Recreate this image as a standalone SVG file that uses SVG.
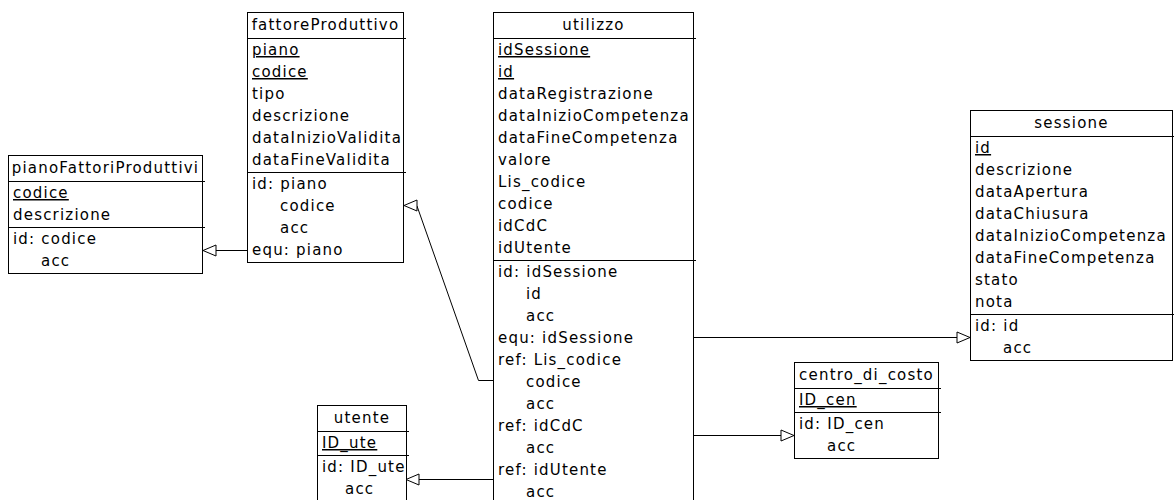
<svg xmlns="http://www.w3.org/2000/svg" width="1174" height="500" viewBox="0 0 1174 500">
  <style>
    .box { fill: #ffffff; stroke: #000000; stroke-width: 1; }
    .sep { stroke: #000000; stroke-width: 1; fill: none; }
    .t { font-family: "DejaVu Sans", "Noto Sans", sans-serif; font-size: 15px; letter-spacing: 1.2px; fill: #000000; }
    .h { text-anchor: middle; }
    .pk { text-decoration: underline; }
    .link { stroke: #000000; stroke-width: 1; fill: none; }
    .head { fill: #ffffff; stroke: #000000; stroke-width: 1; }
  </style>
  <rect width="1174" height="500" fill="#ffffff"/>

  <!-- connectors: foreign keys / equality constraints -->
  <g id="connectors">
    <!-- fattoreProduttivo.equ piano -> pianoFattoriProduttivi -->
    <line class="link" x1="247" y1="250.5" x2="216" y2="250.5"/>
    <polygon class="head" points="203,250.5 216,245 216,256"/>
    <!-- utilizzo.ref Lis_codice,codice -> fattoreProduttivo -->
    <polyline class="link" points="493,380.5 478.5,380.5 417,206"/>
    <polygon class="head" points="404,205.5 417,200 417,211"/>
    <!-- utilizzo.equ idSessione -> sessione -->
    <line class="link" x1="693" y1="337.5" x2="957" y2="337.5"/>
    <polygon class="head" points="970,337.5 957,332 957,343"/>
    <!-- utilizzo.ref idCdC -> centro_di_costo -->
    <line class="link" x1="693" y1="435.5" x2="781" y2="435.5"/>
    <polygon class="head" points="794,435.5 781,430 781,441"/>
    <!-- utilizzo.ref idUtente -> utente -->
    <line class="link" x1="493" y1="479.5" x2="419" y2="479.5"/>
    <polygon class="head" points="406,479.5 419,474 419,485"/>
  </g>

  <!-- pianoFattoriProduttivi -->
  <g id="pianoFattoriProduttivi">
    <rect class="box" x="8.5" y="155.5" width="194" height="118"/>
    <line class="sep" x1="8.5" y1="181.5" x2="205" y2="181.5"/>
    <line class="sep" x1="8.5" y1="227.5" x2="205" y2="227.5"/>
    <text class="t h" x="105.5" y="173">pianoFattoriProduttivi</text>
    <text class="t pk" x="13" y="198">codice</text>
    <text class="t" x="13" y="220">descrizione</text>
    <text class="t" x="13" y="244">id: codice</text>
    <text class="t" x="41" y="266">acc</text>
  </g>

  <!-- fattoreProduttivo -->
  <g id="fattoreProduttivo">
    <rect class="box" x="247.5" y="12.5" width="156" height="250"/>
    <line class="sep" x1="247.5" y1="38.5" x2="406" y2="38.5"/>
    <line class="sep" x1="247.5" y1="172.5" x2="406" y2="172.5"/>
    <text class="t h" x="325.5" y="30">fattoreProduttivo</text>
    <text class="t pk" x="252" y="55">piano</text>
    <text class="t pk" x="252" y="77">codice</text>
    <text class="t" x="252" y="99">tipo</text>
    <text class="t" x="252" y="121">descrizione</text>
    <text class="t" x="252" y="143">dataInizioValidita</text>
    <text class="t" x="252" y="165">dataFineValidita</text>
    <text class="t" x="252" y="189">id: piano</text>
    <text class="t" x="280" y="211">codice</text>
    <text class="t" x="280" y="233">acc</text>
    <text class="t" x="252" y="255">equ: piano</text>
  </g>

  <!-- utilizzo -->
  <g id="utilizzo">
    <rect class="box" x="493.5" y="12.5" width="200" height="492"/>
    <line class="sep" x1="493.5" y1="38.5" x2="696" y2="38.5"/>
    <line class="sep" x1="493.5" y1="260.5" x2="696" y2="260.5"/>
    <text class="t h" x="593.5" y="30">utilizzo</text>
    <text class="t pk" x="498" y="55">idSessione</text>
    <text class="t pk" x="498" y="77">id</text>
    <text class="t" x="498" y="99">dataRegistrazione</text>
    <text class="t" x="498" y="121">dataInizioCompetenza</text>
    <text class="t" x="498" y="143">dataFineCompetenza</text>
    <text class="t" x="498" y="165">valore</text>
    <text class="t" x="498" y="187">Lis_codice</text>
    <text class="t" x="498" y="209">codice</text>
    <text class="t" x="498" y="231">idCdC</text>
    <text class="t" x="498" y="253">idUtente</text>
    <text class="t" x="498" y="277">id: idSessione</text>
    <text class="t" x="526" y="299">id</text>
    <text class="t" x="526" y="321">acc</text>
    <text class="t" x="498" y="343">equ: idSessione</text>
    <text class="t" x="498" y="365">ref: Lis_codice</text>
    <text class="t" x="526" y="387">codice</text>
    <text class="t" x="526" y="409">acc</text>
    <text class="t" x="498" y="431">ref: idCdC</text>
    <text class="t" x="526" y="453">acc</text>
    <text class="t" x="498" y="475">ref: idUtente</text>
    <text class="t" x="526" y="497">acc</text>
  </g>

  <!-- sessione -->
  <g id="sessione">
    <rect class="box" x="970.5" y="110.5" width="202" height="250"/>
    <line class="sep" x1="970.5" y1="136.5" x2="1174" y2="136.5"/>
    <line class="sep" x1="970.5" y1="314.5" x2="1174" y2="314.5"/>
    <text class="t h" x="1071.5" y="128">sessione</text>
    <text class="t pk" x="975" y="153">id</text>
    <text class="t" x="975" y="175">descrizione</text>
    <text class="t" x="975" y="197">dataApertura</text>
    <text class="t" x="975" y="219">dataChiusura</text>
    <text class="t" x="975" y="241">dataInizioCompetenza</text>
    <text class="t" x="975" y="263">dataFineCompetenza</text>
    <text class="t" x="975" y="285">stato</text>
    <text class="t" x="975" y="307">nota</text>
    <text class="t" x="975" y="331">id: id</text>
    <text class="t" x="1003" y="353">acc</text>
  </g>

  <!-- centro_di_costo -->
  <g id="centro_di_costo">
    <rect class="box" x="794.5" y="362.5" width="144" height="96"/>
    <line class="sep" x1="794.5" y1="388.5" x2="941" y2="388.5"/>
    <line class="sep" x1="794.5" y1="412.5" x2="941" y2="412.5"/>
    <text class="t h" x="866.5" y="380">centro_di_costo</text>
    <text class="t pk" x="799" y="405">ID_cen</text>
    <text class="t" x="799" y="429">id: ID_cen</text>
    <text class="t" x="827" y="451">acc</text>
  </g>

  <!-- utente -->
  <g id="utente">
    <rect class="box" x="317.5" y="405.5" width="89" height="96"/>
    <line class="sep" x1="317.5" y1="431.5" x2="409" y2="431.5"/>
    <line class="sep" x1="317.5" y1="455.5" x2="409" y2="455.5"/>
    <text class="t h" x="362" y="423">utente</text>
    <text class="t pk" x="322" y="448">ID_ute</text>
    <text class="t" x="322" y="472">id: ID_ute</text>
    <text class="t" x="345" y="494">acc</text>
  </g>
</svg>
